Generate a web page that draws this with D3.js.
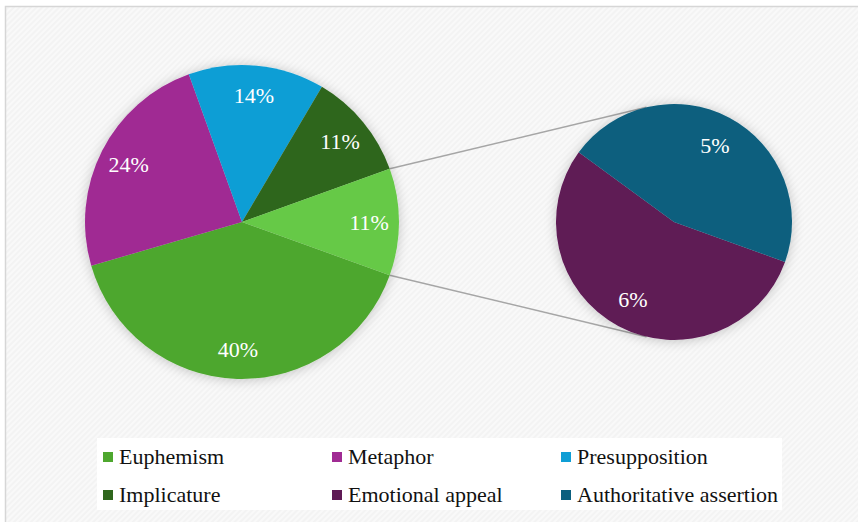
<!DOCTYPE html>
<html lang="en">

<head>
    <meta charset="UTF-8">
    <script src="https://cdn.jsdelivr.net/npm/d3@7/dist/d3.min.js"></script>
    <title>Pie of pie</title>
    <style>
        body { margin: 0; background: #fff; }
    </style>
</head>

<body>
    <svg id="mainsvg" width="858" height="522"></svg>
    <script>
        // data
        const mainCats = ['Euphemism', 'Metaphor', 'Presupposition', 'Implicature']
        const mainValues = [40, 24, 14, 11]
        const subCats = ['Emotional appeal', 'Authoritative assertion']
        const subValues = [6, 5]
        const legendOrder = ['Euphemism', 'Metaphor', 'Presupposition', 'Implicature', 'Emotional appeal', 'Authoritative assertion']

        const colors = {
            'Euphemism': '#4ea72e',
            'Metaphor': '#a02b93',
            'Presupposition': '#0f9ed5',
            'Implicature': '#2f661d',
            'Other': '#66c947',
            'Emotional appeal': '#5f1a55',
            'Authoritative assertion': '#0b5f7e'
        }
        const serif = "'Liberation Serif', 'DejaVu Serif', 'Times New Roman', serif"

        const svg = d3.select('#mainsvg')
        const width = +svg.attr('width')
        const height = +svg.attr('height')

        const defs = svg.append('defs')
        const pat = defs.append('pattern').attr('id', 'bgpat')
            .attr('width', 4).attr('height', 4)
            .attr('patternUnits', 'userSpaceOnUse')
            .attr('patternTransform', 'rotate(45)')
        pat.append('rect').attr('width', 4).attr('height', 4).attr('fill', '#f3f3f3')
        pat.append('rect').attr('width', 2).attr('height', 4).attr('fill', '#f9f9f9')

        const shadow = defs.append('filter').attr('id', 'shadow')
            .attr('x', '-20%').attr('y', '-20%').attr('width', '140%').attr('height', '140%')
        shadow.append('feDropShadow')
            .attr('dx', 0).attr('dy', 1).attr('stdDeviation', 6)
            .attr('flood-color', '#000').attr('flood-opacity', 0.22)

        // frame
        svg.append('rect').attr('x', 5.5).attr('y', 6.5)
            .attr('width', width).attr('height', height)
            .attr('fill', 'url(#bgpat)')
            .attr('stroke', '#d6d6d6').attr('stroke-width', 1.5)

        const total = d3.sum(mainValues) + d3.sum(subValues)
        const otherValue = d3.sum(subValues)
        const mainData = mainCats.map((c, i) => ({ name: c, value: mainValues[i] }))
            .concat([{ name: 'Other', value: otherValue }])
        const subData = subCats.map((c, i) => ({ name: c, value: subValues[i] }))

        const c1 = { x: 242, y: 222, r: 157 }
        const c2 = { x: 674, y: 222, r: 118 }

        // other slice centred at 3 o'clock
        const a0 = Math.PI / 2 + (otherValue / total) * Math.PI

        const pieMain = d3.pie().sort(null).value(d => d.value)
            .startAngle(a0).endAngle(a0 + 2 * Math.PI)
        const pieSub = d3.pie().sort(null).value(d => d.value)
            .startAngle(a0).endAngle(a0 + 2 * Math.PI)

        const arcs1 = pieMain(mainData)
        const arcs2 = pieSub(subData)

        // connector lines, tangent to the secondary pie
        const other = arcs1[arcs1.length - 1]
        const pt = (c, a, r) => [c.x + r * Math.sin(a), c.y - r * Math.cos(a)]
        function tangent(p, c, side) {
            const dx = c.x - p[0], dy = c.y - p[1]
            const d = Math.hypot(dx, dy)
            const base = Math.atan2(dy, dx)
            const off = Math.asin(c.r / d)
            const ang = base + side * off
            const len = Math.sqrt(d * d - c.r * c.r)
            return [p[0] + len * Math.cos(ang), p[1] + len * Math.sin(ang)]
        }
        const pTop = pt(c1, other.startAngle, c1.r)
        const pBot = pt(c1, other.endAngle, c1.r)
        const tTop = tangent(pTop, c2, -1)
        const tBot = tangent(pBot, c2, 1)
        svg.append('line')
            .attr('x1', pTop[0]).attr('y1', pTop[1])
            .attr('x2', tTop[0]).attr('y2', tTop[1])
            .attr('stroke', '#a6a6a6').attr('stroke-width', 1.5)
        svg.append('line')
            .attr('x1', pBot[0]).attr('y1', pBot[1])
            .attr('x2', tBot[0]).attr('y2', tBot[1])
            .attr('stroke', '#a6a6a6').attr('stroke-width', 1.5)

        // main pie
        const arc1 = d3.arc().innerRadius(0).outerRadius(c1.r)
        const lab1 = d3.arc().innerRadius(c1.r * 0.81).outerRadius(c1.r * 0.81)
        const g1 = svg.append('g').attr('transform', `translate(${c1.x},${c1.y})`)
        g1.append('g').attr('filter', 'url(#shadow)')
            .selectAll('path').data(arcs1).join('path')
            .attr('d', arc1)
            .attr('fill', d => colors[d.data.name])
        g1.selectAll('text').data(arcs1).join('text')
            .attr('transform', d => `translate(${lab1.centroid(d)})`)
            .attr('text-anchor', 'middle')
            .attr('dy', '0.35em')
            .attr('font-family', serif)
            .attr('font-size', 22)
            .attr('fill', '#fff')
            .text(d => Math.round(d.data.value / total * 100) + '%')

        // secondary pie
        const arc2 = d3.arc().innerRadius(0).outerRadius(c2.r)
        const lab2 = d3.arc().innerRadius(c2.r * 0.74).outerRadius(c2.r * 0.74)
        const g2 = svg.append('g').attr('transform', `translate(${c2.x},${c2.y})`)
        g2.append('g').attr('filter', 'url(#shadow)')
            .selectAll('path').data(arcs2).join('path')
            .attr('d', arc2)
            .attr('fill', d => colors[d.data.name])
        g2.selectAll('text').data(arcs2).join('text')
            .attr('transform', d => `translate(${lab2.centroid(d)})`)
            .attr('text-anchor', 'middle')
            .attr('dy', '0.35em')
            .attr('font-family', serif)
            .attr('font-size', 22)
            .attr('fill', '#fff')
            .text(d => Math.round(d.data.value / total * 100) + '%')

        // legend
        const legend = svg.append('g')
        legend.append('rect')
            .attr('x', 97).attr('y', 438)
            .attr('width', 685).attr('height', 72)
            .attr('fill', '#fff')
        const colX = [103, 332, 561]
        const rowY = [463.5, 501.5]
        legendOrder.forEach((name, i) => {
            const x = colX[i % 3]
            const y = rowY[Math.floor(i / 3)]
            legend.append('rect')
                .attr('x', x).attr('y', y - 11.5)
                .attr('width', 10).attr('height', 10)
                .attr('fill', colors[name])
            legend.append('text')
                .attr('x', x + 16).attr('y', y)
                .attr('font-family', serif)
                .attr('font-size', 22)
                .attr('fill', '#111')
                .text(name)
        })
    </script>
</body>

</html>
